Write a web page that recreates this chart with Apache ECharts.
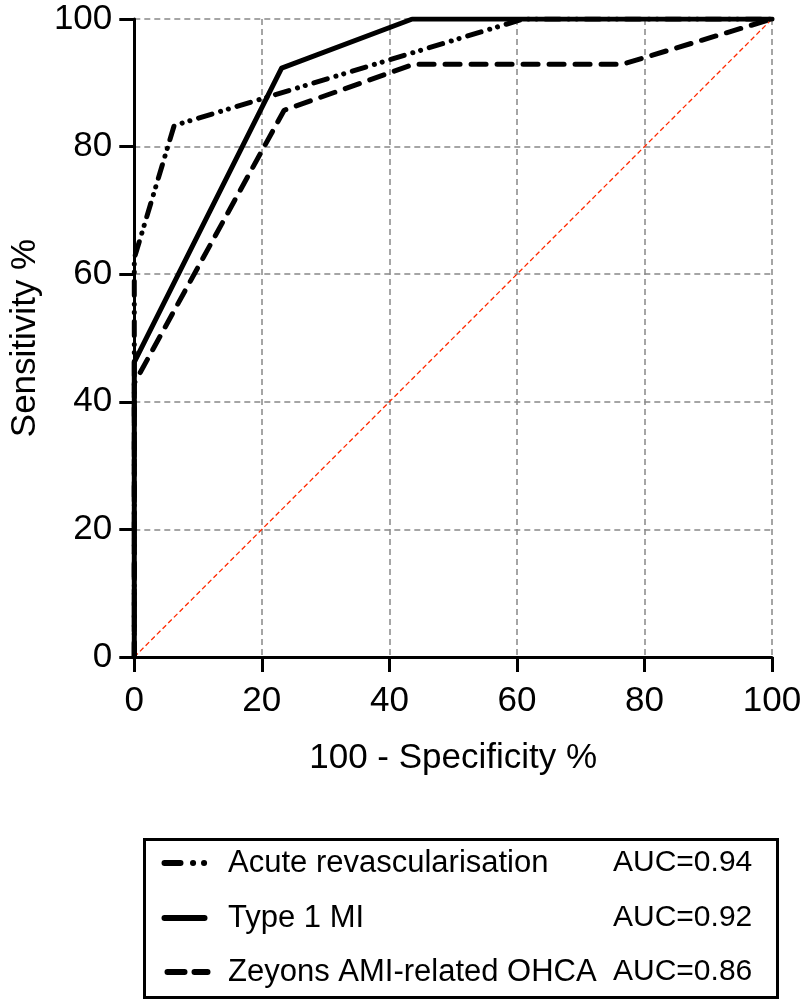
<!DOCTYPE html>
<html><head><meta charset="utf-8">
<script src="https://cdn.jsdelivr.net/npm/echarts@6/dist/echarts.min.js"></script>
<style>html,body{margin:0;padding:0;background:#fff}#c{width:806px;height:1001px}</style>
</head><body><div id="c"></div>
<script>
// ROC data (100 - Specificity %, Sensitivity %)
const acuteX  = [0, 0, 6.25, 61, 100];
const acuteY  = [0, 62.5, 83.3, 100, 100];
const type1X  = [0, 0, 23.1, 43.6, 100];
const type1Y  = [0, 46.2, 92.3, 100, 100];
const zeyonsX = [0, 0, 23.5, 43.8, 76.5, 100];
const zeyonsY = [0, 42.9, 85.7, 92.9, 92.9, 100];
const refX = [0, 100];
const refY = [0, 100];
const seriesNames = ['Acute revascularisation', 'Type 1 MI', 'Zeyons AMI-related OHCA'];
const aucLabels = ['AUC=0.94', 'AUC=0.92', 'AUC=0.86'];
const xTitle = '100 - Specificity %';
const yTitle = 'Sensitivity %';

const FONT = "'Liberation Sans', Arial, Helvetica, sans-serif";
const zip = (a, b) => a.map((v, i) => [v, b[i]]);

const dashes = [
  [14, 9, 0.1, 8, 0.1, 9],
  null,
  [15, 11]
];

const chart = echarts.init(document.getElementById('c'));
const axisCommon = {
  min: 0, max: 100, interval: 20,
  axisLine: { show: true, onZero: false, lineStyle: { color: '#000', width: 3 } },
  axisTick: { show: true, inside: false, length: 15, lineStyle: { color: '#000', width: 3 } },
  axisLabel: { color: '#000', fontSize: 35, fontFamily: FONT },
  splitLine: { show: true, lineStyle: { color: '#888', width: 1.5, type: [6, 4] } },
  nameLocation: 'middle',
  nameTextStyle: { color: '#000', fontSize: 35, fontFamily: FONT }
};

const lineSeries = [[acuteX, acuteY], [type1X, type1Y], [zeyonsX, zeyonsY]].map((d, i) => ({
  type: 'line', name: seriesNames[i], data: zip(d[0], d[1]),
  showSymbol: false, symbol: 'none', z: 3 + i,
  lineStyle: { color: '#000', width: 5, type: dashes[i] || 'solid', cap: 'round', join: 'round' }
}));

// legend (drawn as graphic so that each sample keeps its dash pattern)
const rowY = [863, 918, 972];
const sample = [
  { x1: 164.5, x2: 206, dash: [16, 12.5, 0.1, 10.9, 0.1, 100] },
  { x1: 164.5, x2: 204.5, dash: null },
  { x1: 167.5, x2: 207.5, dash: [17, 10, 13, 100] }
];
const legendChildren = [];
seriesNames.forEach((n, i) => {
  const ls = { stroke: '#000', lineWidth: 6, lineCap: 'round' };
  if (sample[i].dash) ls.lineDash = sample[i].dash;
  legendChildren.push({ type: 'line', shape: { x1: sample[i].x1, y1: rowY[i], x2: sample[i].x2, y2: rowY[i] }, style: ls });
  legendChildren.push({ type: 'text', x: 228, y: rowY[i], style: { text: n, fill: '#000', font: '31px ' + FONT, textVerticalAlign: 'middle', textAlign: 'left' } });
  legendChildren.push({ type: 'text', x: 613, y: rowY[i], style: { text: aucLabels[i], fill: '#000', font: '30px ' + FONT, textVerticalAlign: 'middle', textAlign: 'left' } });
});

chart.setOption({
  animation: false,
  backgroundColor: '#fff',
  grid: { left: 133, right: 34, top: 19, bottom: 344, containLabel: false },
  xAxis: Object.assign({}, axisCommon, { type: 'value', name: xTitle, nameGap: 84,
    axisLabel: Object.assign({}, axisCommon.axisLabel, { margin: 27 }) }),
  yAxis: Object.assign({}, axisCommon, { type: 'value', name: yTitle, nameGap: 77, nameRotate: 90,
    axisLabel: Object.assign({}, axisCommon.axisLabel, { margin: 22 }) }),
  series: [
    { type: 'line', data: zip(refX, refY), showSymbol: false, symbol: 'none', z: 2,
      lineStyle: { color: '#ff2a00', width: 1.3, type: [5, 3] } }
  ].concat(lineSeries),
  graphic: [
    { type: 'rect', shape: { x: 144.5, y: 839.5, width: 633, height: 158 }, style: { fill: 'none', stroke: '#000', lineWidth: 3 } },
    { type: 'group', children: legendChildren }
  ]
});
</script></body></html>
